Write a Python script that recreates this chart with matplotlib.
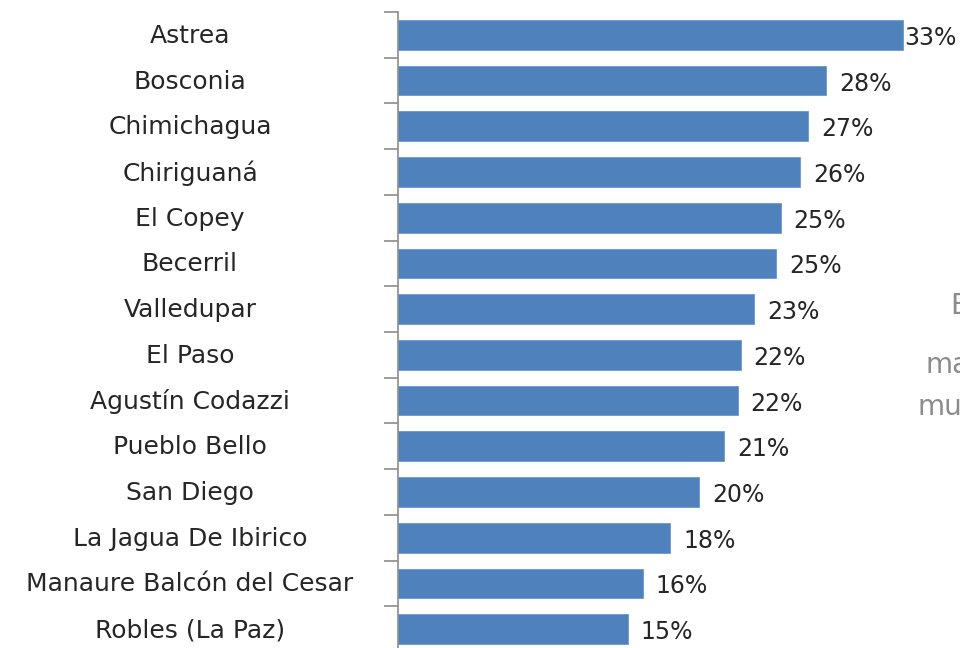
import matplotlib
matplotlib.use("Agg")
import matplotlib.pyplot as plt
import numpy as np

municipios = ["Astrea", "Bosconia", "Chimichagua", "Chiriguaná", "El Copey", "Becerril",
              "Valledupar", "El Paso", "Agustín Codazzi", "Pueblo Bello", "San Diego",
              "La Jagua De Ibirico", "Manaure Balcón del Cesar", "Robles (La Paz)"]
valores = [33.0, 28.0, 26.8, 26.3, 25.0, 24.7, 23.3, 22.4, 22.2, 21.3, 19.7, 17.8, 16.0, 15.0]
etiquetas = ["33%", "28%", "27%", "26%", "25%", "25%", "23%", "22%", "22%", "21%",
             "20%", "18%", "16%", "15%"]
texto_derecha = ["E", "ma", "mu"]

W, H = 960, 648
fig = plt.figure(figsize=(W / 100, H / 100), dpi=100)
px_per_pct = 15.3
xmax = 36
ax = fig.add_axes([398 / W, -4 / H, xmax * px_per_pct / W, 640 / H])

n = len(municipios)
y = np.arange(n)
ax.barh(y, valores, height=0.65, color="#4F81BD", edgecolor="#6F97CB", linewidth=0.6)
ax.set_ylim(n - 0.5, -0.5)
ax.set_xlim(0, xmax)

for s in ["top", "right", "bottom"]:
    ax.spines[s].set_visible(False)
ax.spines["left"].set_color("#8C8C8C")
ax.spines["left"].set_linewidth(1.2)
ax.set_xticks([])
ax.set_yticks([])
ax.set_yticks(np.arange(-0.5, n, 1.0), minor=True)
ax.tick_params(axis="y", which="minor", length=10, width=1.2, color="#8C8C8C", labelleft=False)

font = "DejaVu Sans"
for i, (name, v, lab) in enumerate(zip(municipios, valores, etiquetas)):
    ax.annotate(name, xy=(0, i), xycoords="data", xytext=(-208, -1), textcoords="offset pixels",
                ha="center", va="center", fontsize=18, color="#262626", family=font)
    off = 1 if v == max(valores) else 13
    ax.annotate(lab, xy=(v, i), xytext=(off, -3), textcoords="offset pixels",
                ha="left", va="center", fontsize=17, color="#262626", family=font,
                annotation_clip=False)

# texto recortado a la derecha
for t, (xp, yp) in zip(texto_derecha, [(950, 306), (925, 365), (917, 407)]):
    fig.text(xp / W, 1 - yp / H, t, ha="left", va="center", fontsize=20,
             color="#8C8C8C", family=font)

fig.savefig("out.png", dpi=100)
